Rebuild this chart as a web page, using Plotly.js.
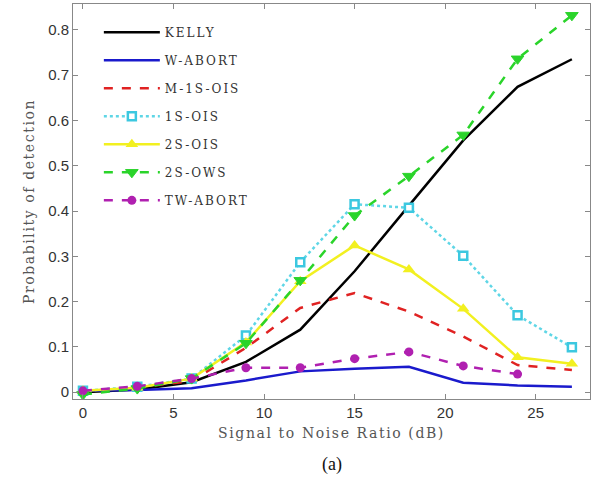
<!DOCTYPE html>
<html>
<head>
<meta charset="utf-8">
<script src="https://cdn.plot.ly/plotly-3.0.1.min.js"></script>
<style>
html,body{margin:0;padding:0;background:#fff;}
#chart{width:595px;height:477px;}
.legendtext{letter-spacing:2px;}
.xtitle,.ytitle{letter-spacing:1.6px;}
</style>
</head>
<body>
<div id="chart"></div>
<script>
// SNR values (dB)
const snr = [0, 3, 6, 9, 12, 15, 18, 21, 24, 27];
const snrTW = [0, 3, 6, 9, 12, 15, 18, 21, 24];

const kelly   = [0.000, 0.006, 0.022, 0.067, 0.138, 0.267, 0.412, 0.556, 0.674, 0.735];
const wAbort  = [0.003, 0.005, 0.009, 0.026, 0.046, 0.052, 0.056, 0.021, 0.015, 0.012];
const m1sOis  = [0.003, 0.010, 0.025, 0.098, 0.186, 0.219, 0.178, 0.123, 0.060, 0.049];
const s1Ois   = [0.003, 0.012, 0.030, 0.125, 0.287, 0.415, 0.407, 0.301, 0.170, 0.099];
const s2Ois   = [0.003, 0.010, 0.030, 0.110, 0.245, 0.324, 0.271, 0.184, 0.077, 0.063];
const s2Ows   = [-0.005, 0.008, 0.030, 0.108, 0.247, 0.390, 0.477, 0.568, 0.736, 0.832];
const twAbort = [0.003, 0.013, 0.030, 0.054, 0.054, 0.074, 0.089, 0.058, 0.040];

const names = ['KELLY','W-ABORT','M-1S-OIS','1S-OIS','2S-OIS','2S-OWS','TW-ABORT'];

const traces = [
  {x: snr, y: kelly, name: names[0], mode: 'lines', line: {color: '#000000', width: 2.5}},
  {x: snr, y: wAbort, name: names[1], mode: 'lines', line: {color: '#1a1acc', width: 2.5}},
  {x: snr, y: m1sOis, name: names[2], mode: 'lines', line: {color: '#e02222', width: 2.5, dash: 'dash'}},
  {x: snr, y: s1Ois, name: names[3], mode: 'lines+markers', line: {color: '#5fd6e6', width: 2.5, dash: 'dot'},
   marker: {symbol: 'square', size: 8, color: '#ffffff', line: {color: '#3cc8e0', width: 2.5}}},
  {x: snr, y: s2Ois, name: names[4], mode: 'lines+markers', line: {color: '#f2f020', width: 2.5},
   marker: {symbol: 'triangle-up', size: 11, color: '#f2f020'}},
  {x: snr, y: s2Ows, name: names[5], mode: 'lines+markers', line: {color: '#2ad42a', width: 2.5, dash: 'dash'},
   marker: {symbol: 'triangle-down', size: 11, color: '#2ad42a', line: {color: '#2ad42a', width: 1}}},
  {x: snrTW, y: twAbort, name: names[6], mode: 'lines+markers', line: {color: '#b020b0', width: 2.5, dash: 'dash'},
   marker: {symbol: 'circle', size: 9, color: '#b020b0'}}
];
traces.forEach((t, i) => { t.legendgroup = 'g' + i; });

const axisCommon = {
  showline: true, linecolor: '#888', linewidth: 1, mirror: 'ticks',
  ticks: 'inside', ticklen: 5, tickcolor: '#888', showgrid: false, zeroline: false,
  tickfont: {family: 'Liberation Sans, Arial, sans-serif', size: 15, color: '#333'}
};

const layout = {
  width: 595, height: 477,
  margin: {l: 73, r: 5, t: 4, b: 78},
  paper_bgcolor: '#fff', plot_bgcolor: '#fff',
  showlegend: true,
  legend: {
    x: 0.05, y: 0.965, xanchor: 'left', yanchor: 'top',
    bgcolor: 'rgba(255,255,255,0)', borderwidth: 0,
    itemwidth: 56, tracegroupgap: 9,
    font: {family: 'DejaVu Serif, serif', size: 12, color: '#333'}
  },
  xaxis: Object.assign({}, axisCommon, {
    range: [-0.55, 28], tickvals: [0, 5, 10, 15, 20, 25],
    title: {text: 'Signal to Noise Ratio (dB)', standoff: 8,
      font: {family: 'DejaVu Serif, serif', size: 14, color: '#555'}}
  }),
  yaxis: Object.assign({}, axisCommon, {
    range: [-0.015, 0.857], dtick: 0.1, tick0: 0,
    title: {text: 'Probability of detection', standoff: 10,
      font: {family: 'DejaVu Serif, serif', size: 14, color: '#555'}}
  }),
  annotations: [{
    text: '(a)', xref: 'paper', yref: 'paper', x: 0.5, y: -0.165,
    xanchor: 'center', yanchor: 'middle', showarrow: false,
    font: {family: 'Liberation Serif, Times New Roman, serif', size: 18, color: '#111'}
  }]
};

Plotly.newPlot('chart', traces, layout, {displayModeBar: false, staticPlot: true});
</script>
</body>
</html>
